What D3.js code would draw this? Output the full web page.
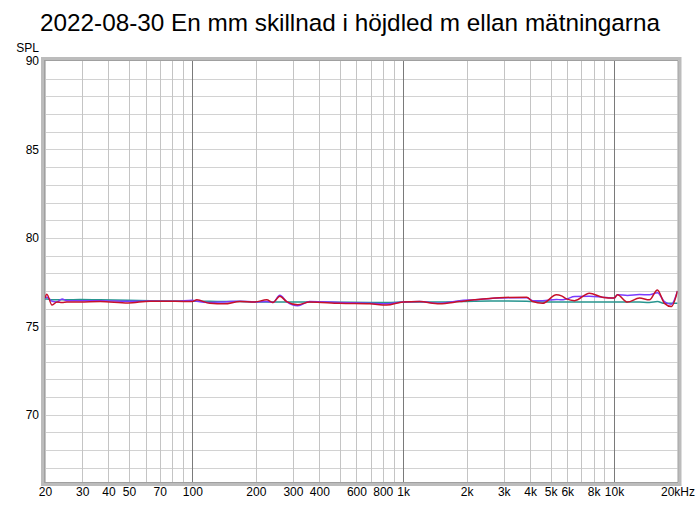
<!DOCTYPE html>
<html><head><meta charset="utf-8">
<script src="https://cdn.jsdelivr.net/npm/d3@7"></script>
<style>body{margin:0;background:#fff;}svg{display:block;font-family:"Liberation Sans",Arial,sans-serif;}</style>
</head><body><svg id="c" width="700" height="505"></svg>
<script>
const title = "2022-08-30 En mm skillnad i höjdled m ellan mätningarna";
const freqs = [20,20.4,21.6,22.8,24.1,25.4,29.3,36.5,49.5,63,83,100,105,121,142,168,198,225,241,260,280,316,360,500,694,834,1000,1194,1486,1848,2176,2860,3852,4112,4584,5330,5630,5950,6500,7640,8800,10000,10380,11580,13200,14720,16060,17340,18700,20000];
const tealSeries = [76.55,76.55,76.5,76.5,76.5,76.5,76.52,76.5,76.48,76.45,76.43,76.42,76.42,76.42,76.4,76.4,76.38,76.38,76.38,76.38,76.38,76.37,76.37,76.36,76.35,76.35,76.37,76.38,76.38,76.4,76.42,76.43,76.42,76.4,76.38,76.38,76.38,76.38,76.38,76.38,76.38,76.38,76.38,76.38,76.37,76.35,76.4,76.3,76.3,76.3];
const purpleSeries = [76.6,76.65,76.42,76.38,76.55,76.45,76.45,76.45,76.42,76.43,76.42,76.48,76.42,76.35,76.38,76.42,76.38,76.4,76.35,76.76,76.4,76.16,76.4,76.35,76.3,76.28,76.37,76.4,76.3,76.45,76.5,76.6,76.62,76.45,76.45,76.52,76.5,76.55,76.68,76.7,76.65,76.6,76.78,76.75,76.8,76.78,76.9,76.4,76.25,77.0];
const redSeries = [76.6,76.82,76.2,76.38,76.35,76.38,76.38,76.4,76.32,76.42,76.42,76.4,76.5,76.3,76.27,76.4,76.38,76.5,76.35,76.7,76.4,76.22,76.38,76.3,76.27,76.2,76.38,76.4,76.27,76.4,76.5,76.62,76.65,76.4,76.3,76.78,76.72,76.55,76.45,76.87,76.65,76.6,76.78,76.37,76.6,76.5,77.06,76.3,76.12,77.0];
const yTicks = [90,85,80,75,70];
const xTickValues = [20,30,40,50,70,100,200,300,400,600,800,1000,2000,3000,4000,5000,6000,8000,10000,20000];
const xTickLabels = ["20","30","40","50","70","100","200","300","400","600","800","1k","2k","3k","4k","5k","6k","8k","10k","20kHz"];

const svg = d3.select("#c");
const L=45, R=677.5, T=61, B=482;
const x = d3.scaleLog().domain([20,20000]).range([L,R]);
const y = d3.scaleLinear().domain([66.2,90]).range([B,T]);

svg.append("text").attr("x",350).attr("y",31).attr("text-anchor","middle")
  .attr("font-size",24.3).attr("fill","#000").text(title);
svg.append("text").attr("x",39).attr("y",52).attr("text-anchor","end").attr("font-size",12).text("SPL");

svg.append("rect").attr("x",L).attr("y",T).attr("width",R-L).attr("height",B-T).attr("fill","#fff");

const minor = [];
for (let d=10; d<=10000; d*=10) for (let m=1; m<=9; m++){ const f=d*m; if(f>=20 && f<=20000) minor.push(f);}
minor.push(20000);
const g = svg.append("g");
g.selectAll("line.h").data(d3.range(67,90)).enter().append("line")
  .attr("x1",L).attr("x2",R).attr("y1",d=>Math.round(y(d))+0.5).attr("y2",d=>Math.round(y(d))+0.5)
  .attr("stroke","#d2d2d2").attr("stroke-width",1);
g.selectAll("line.v").data(minor).enter().append("line")
  .attr("y1",T).attr("y2",B).attr("x1",d=>Math.round(x(d))+0.5).attr("x2",d=>Math.round(x(d))+0.5)
  .attr("stroke",d=>[100,1000,10000].includes(d)?"#7a7a7a":"#c4c4c4").attr("stroke-width",1);

const line = d3.line().x((d,i)=>x(freqs[i])).y(d=>y(d)).curve(d3.curveMonotoneX);
[[tealSeries,"#27958f"],[purpleSeries,"#7b3cff"],[redSeries,"#c8102a"]].forEach(([s,c])=>{
  svg.append("path").attr("d",line(s)).attr("fill","none").attr("stroke",c).attr("stroke-width",1.5);
});

svg.append("rect").attr("x",L-2.5).attr("y",T-2.5).attr("width",R-L+5).attr("height",B-T+5)
  .attr("fill","none").attr("stroke","#bcbcbc").attr("stroke-width",3);
svg.append("rect").attr("x",L-0.5).attr("y",T-0.5).attr("width",R-L+1).attr("height",B-T+1)
  .attr("fill","none").attr("stroke","#a0a0a0").attr("stroke-width",1);

const yAxis = d3.axisLeft(y).tickValues(yTicks).tickSize(0).tickPadding(0);
const ya = svg.append("g").attr("transform",`translate(${L-6},0)`).call(yAxis);
ya.select(".domain").remove();
ya.selectAll("text").attr("font-size",12).attr("font-family","Liberation Sans, Arial, sans-serif").attr("fill","#000");

const xAxis = d3.axisBottom(x).tickValues(xTickValues).tickFormat((d,i)=>xTickLabels[i]).tickSize(0).tickPadding(0);
const xa = svg.append("g").attr("transform",`translate(0,${B+5})`).call(xAxis);
xa.select(".domain").remove();
xa.selectAll("text").attr("font-size",12).attr("font-family","Liberation Sans, Arial, sans-serif").attr("fill","#000");
</script></body></html>
